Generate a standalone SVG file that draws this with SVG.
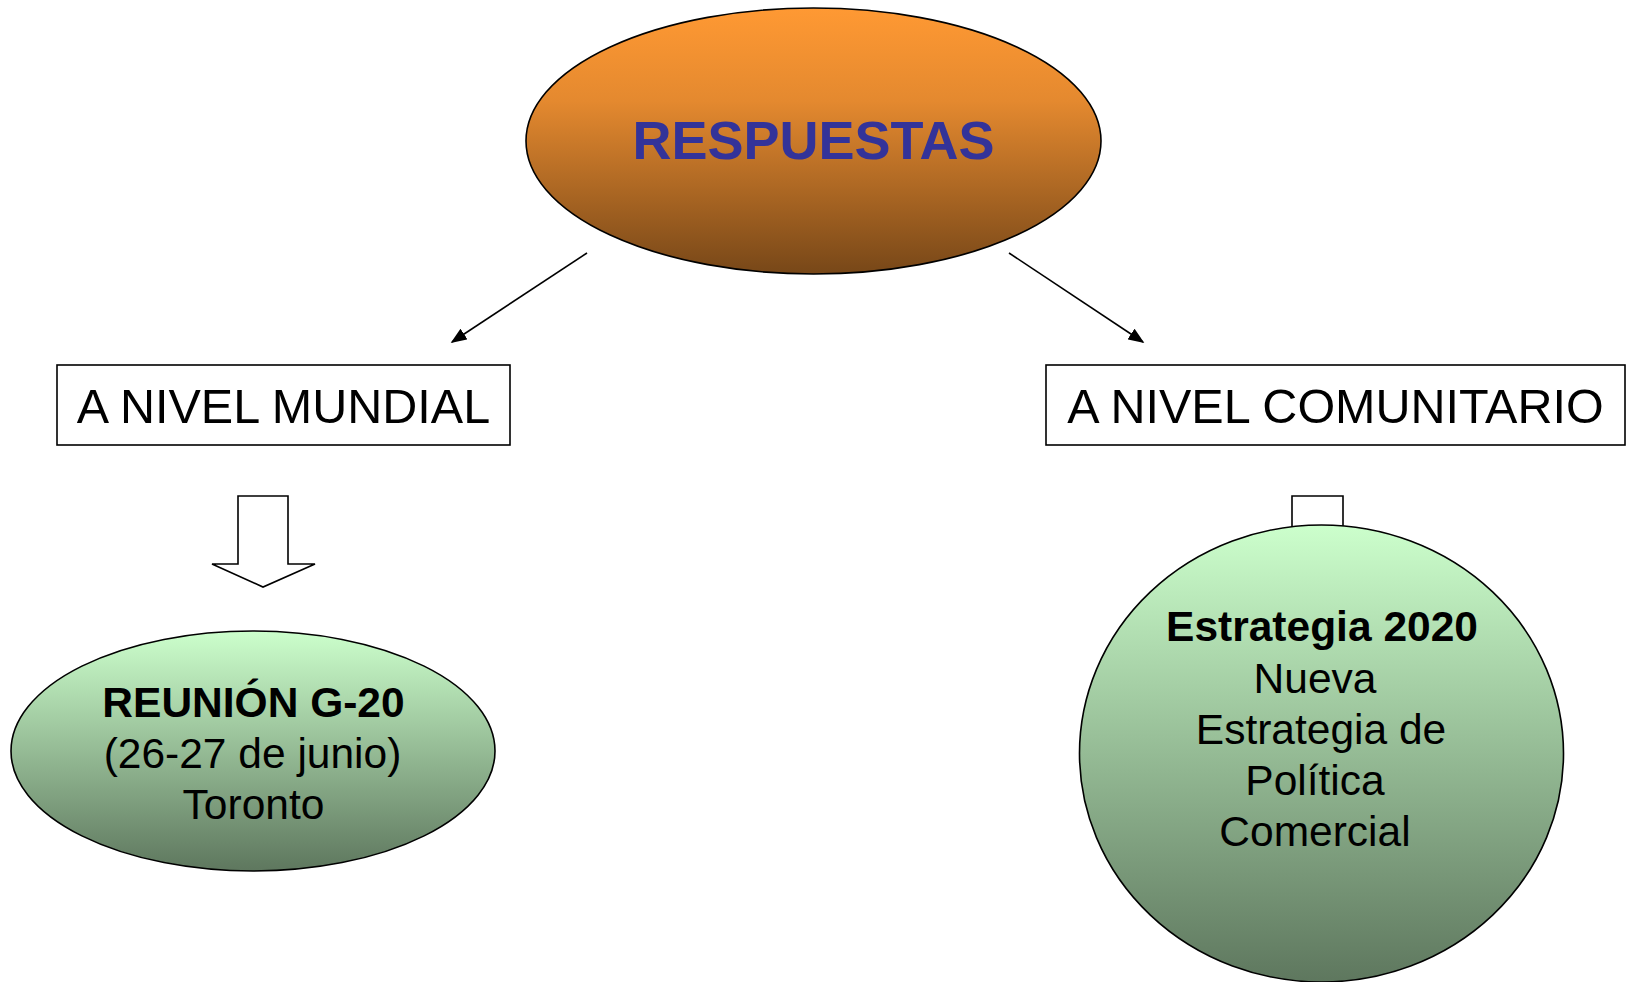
<svg xmlns="http://www.w3.org/2000/svg" width="1627" height="982" viewBox="0 0 1627 982">
<style>
  .t { font-family: "Liberation Sans", Arial, sans-serif; fill: #000; }
  .b { font-weight: bold; }
  .edge { stroke: #000; stroke-width: 1.6; fill: none; }
  .box { fill: #fff; stroke: #000; stroke-width: 1.6; }
  .blk { fill: #fff; stroke: #000; stroke-width: 1.6; }
</style>
<defs>
  <linearGradient id="gOrange" x1="0" y1="0" x2="0" y2="1">
    <stop offset="0" stop-color="#FF9933"/>
    <stop offset="0.35" stop-color="#E4892F"/>
    <stop offset="1" stop-color="#774718"/>
  </linearGradient>
  <linearGradient id="gGreen" x1="0" y1="0" x2="0" y2="1">
    <stop offset="0" stop-color="#CCFFCC"/>
    <stop offset="1" stop-color="#5E775E"/>
  </linearGradient>
  <marker id="arr" markerWidth="10" markerHeight="8" refX="9" refY="4" orient="auto" markerUnits="strokeWidth">
    <path d="M0,0 L10,4 L0,8 Z" fill="#000"/>
  </marker>
</defs>
<rect width="1627" height="982" fill="#fff"/>

<g id="connectors">
  <line class="edge" x1="587" y1="253" x2="452" y2="342" marker-end="url(#arr)"/>
  <line class="edge" x1="1009" y1="253" x2="1143" y2="342" marker-end="url(#arr)"/>
  <path class="blk" d="M238,496 H288 V564 H315 L263,587 L212,564 H238 Z"/>
  <path class="blk" d="M1292,496 H1343 V564 H1369 L1318,587 L1266,564 H1292 Z"/>
</g>

<g id="respuestas">
  <ellipse cx="813.5" cy="141" rx="287.5" ry="133" fill="url(#gOrange)" stroke="#000" stroke-width="1.6"/>
  <text class="t b" x="813.5" y="159" font-size="54" text-anchor="middle" style="fill:#333399">RESPUESTAS</text>
</g>

<g id="mundial">
  <rect class="box" x="57" y="365" width="453" height="80"/>
  <text class="t" x="283.5" y="423" font-size="48.5" text-anchor="middle">A NIVEL MUNDIAL</text>
</g>

<g id="comunitario">
  <rect class="box" x="1046" y="365" width="579" height="80"/>
  <text class="t" x="1335.5" y="423" font-size="48.5" text-anchor="middle">A NIVEL COMUNITARIO</text>
</g>

<g id="g20">
  <ellipse cx="253" cy="751" rx="242" ry="120" fill="url(#gGreen)" stroke="#000" stroke-width="1.6"/>
  <text class="t b" x="253.5" y="717" font-size="42.5" text-anchor="middle">REUNIÓN G-20</text>
  <text class="t" x="252.5" y="768" font-size="42.5" text-anchor="middle">(26-27 de junio)</text>
  <text class="t" x="253.5" y="819" font-size="42.5" text-anchor="middle">Toronto</text>
</g>

<g id="estrategia">
  <ellipse cx="1321.5" cy="753.5" rx="242" ry="228.5" fill="url(#gGreen)" stroke="#000" stroke-width="1.6"/>
  <text class="t b" x="1322" y="641" font-size="42.5" text-anchor="middle">Estrategia 2020</text>
  <text class="t" x="1315" y="693" font-size="42.5" text-anchor="middle">Nueva</text>
  <text class="t" x="1321" y="744" font-size="42.5" text-anchor="middle">Estrategia de</text>
  <text class="t" x="1315" y="795" font-size="42.5" text-anchor="middle">Política</text>
  <text class="t" x="1315" y="846" font-size="42.5" text-anchor="middle">Comercial</text>
</g>
</svg>
